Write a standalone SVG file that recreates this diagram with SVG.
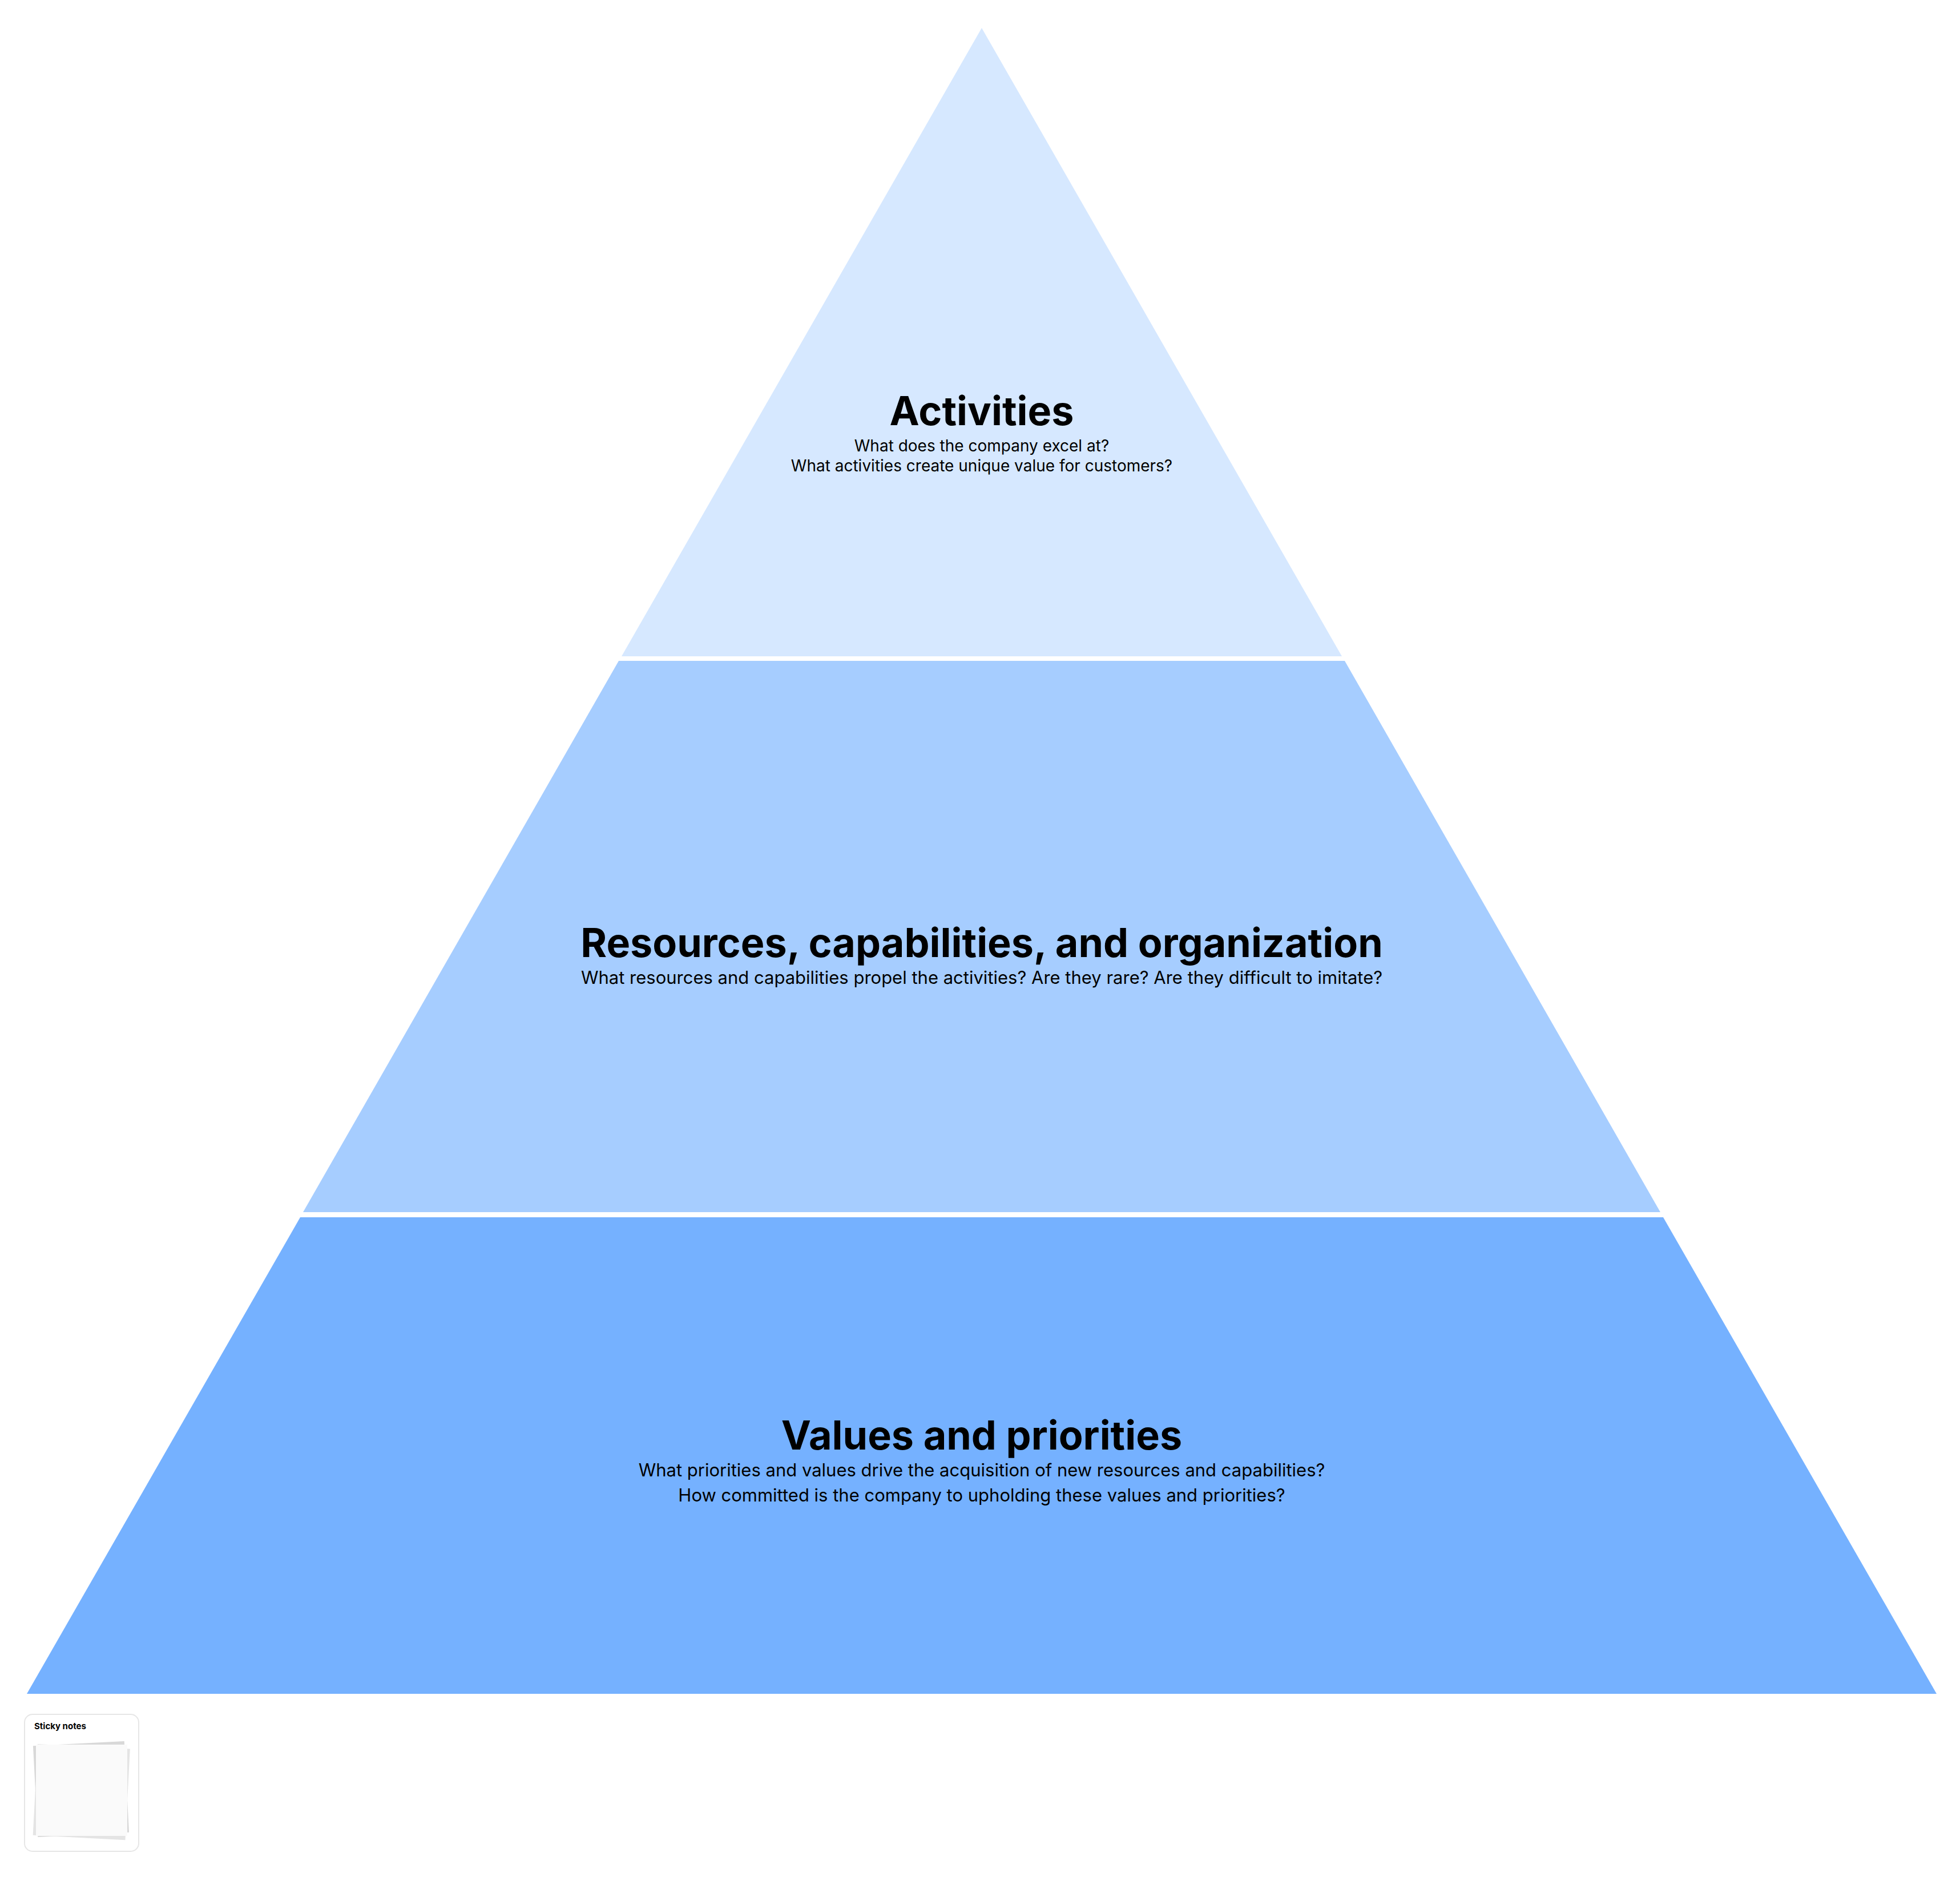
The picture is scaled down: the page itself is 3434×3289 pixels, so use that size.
<svg xmlns="http://www.w3.org/2000/svg" width="3434" height="3289" viewBox="0 0 3434 3289">
<style>
text{font-family:Inter,"Noto Sans","Liberation Sans",sans-serif;fill:#000;text-anchor:middle}
.h{font-size:70px;font-weight:700}
.s{font-size:31px}
.s1{font-size:28px}
</style>
<rect width="3434" height="3289" fill="#fff"/>
<g id="activities">
<polygon points="1720,49 2351,1150 1089,1150" fill="#d6e8ff"/>
<text class="h" x="1720" y="745">Activities</text>
<text class="s1" x="1720" y="791">What does the company excel at?</text>
<text class="s1" x="1720" y="826">What activities create unique value for customers?</text>
</g>
<g id="resources">
<polygon points="1084,1158 2356,1158 2909,2124 531,2124" fill="#a6cdff"/>
<text class="h" x="1720" y="1677">Resources, capabilities, and organization</text>
<text class="s" x="1720" y="1724">What resources and capabilities propel the activities? Are they rare? Are they difficult to imitate?</text>
</g>
<g id="values">
<polygon points="526,2133 2914,2133 3393,2968 47,2968" fill="#75b1ff"/>
<text class="h" x="1720" y="2540">Values and priorities</text>
<text class="s" x="1720" y="2587">What priorities and values drive the acquisition of new resources and capabilities?</text>
<text class="s" x="1720" y="2631">How committed is the company to upholding these values and priorities?</text>
</g>
<g id="sticky-notes">
<rect x="43" y="3004" width="200" height="240" rx="14" fill="#fff" stroke="#e6e6e6" stroke-width="2"/>
<text x="60" y="3030" style="font-size:15px;font-weight:700;text-anchor:start">Sticky notes</text>
<rect x="62" y="3055" width="160" height="160" fill="#d8d8d8" transform="rotate(-3 142 3135)"/>
<rect x="62" y="3060" width="162" height="160" fill="#e4e4e4" transform="rotate(3 142 3135)"/>
<rect x="63" y="3057" width="160" height="160" fill="#fafafa"/>
</g>
<g id="connectors"/>
</svg>
